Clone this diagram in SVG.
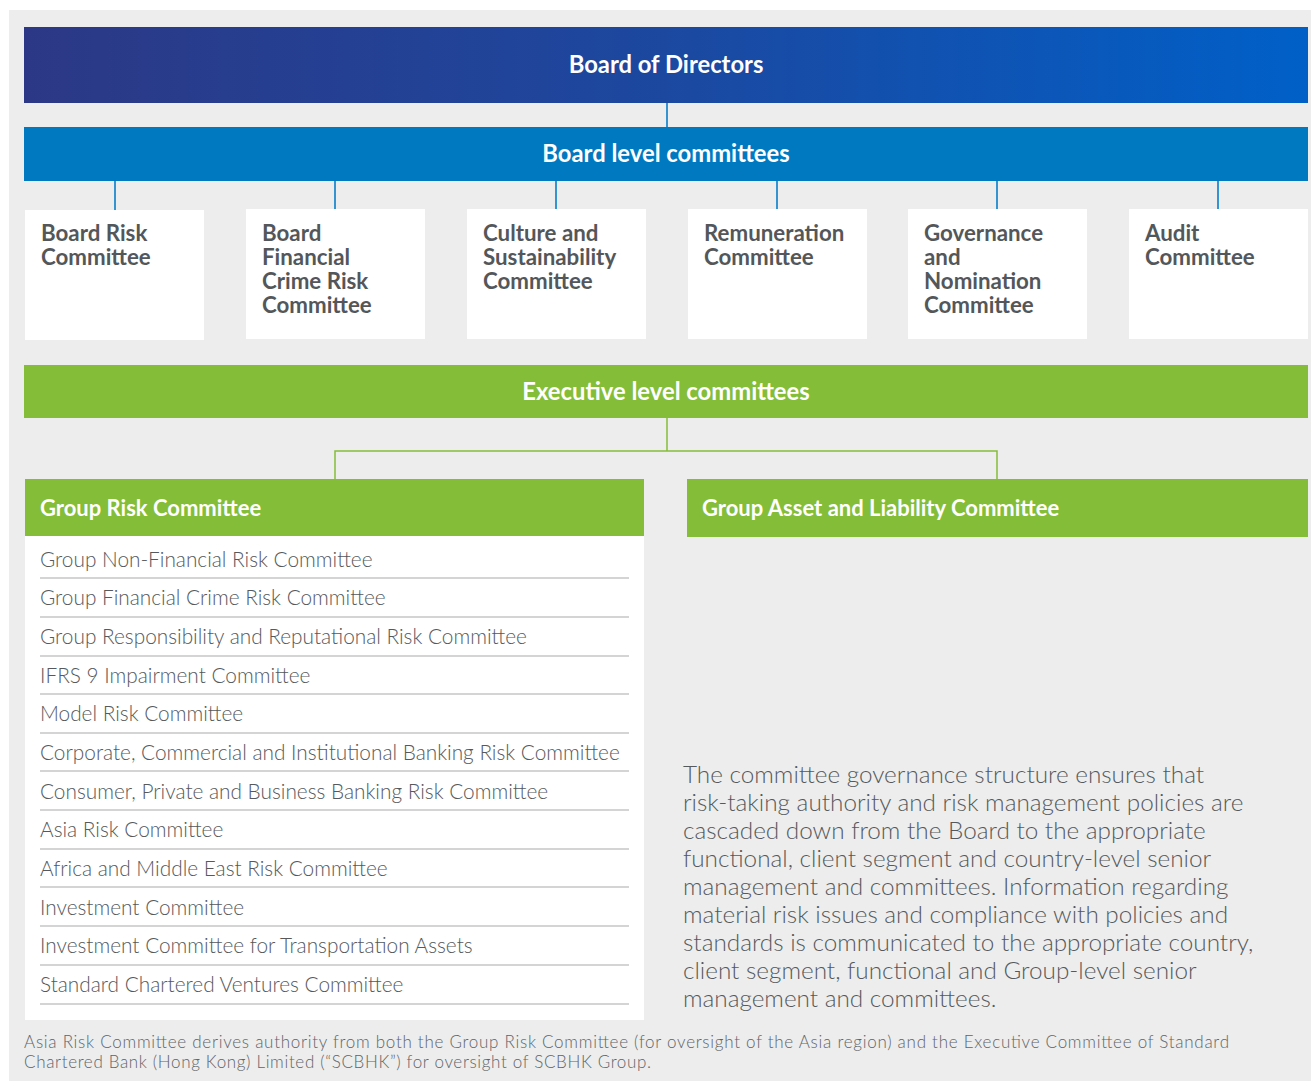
<svg xmlns="http://www.w3.org/2000/svg" width="1311" height="1081" viewBox="0 0 1311 1081">
<defs>
<linearGradient id="bod" x1="0" y1="0" x2="1" y2="0">
<stop offset="0" stop-color="#2c3885"/>
<stop offset="0.5" stop-color="#1c48a0"/>
<stop offset="1" stop-color="#0060c8"/>
</linearGradient>
<style>
.hd{font-family:Lato,"Noto Sans",sans-serif;font-weight:700;fill:#fff;font-size:22px}
.hc{font-size:23.8px}
.bx{fill:#fff}
.bt{font-family:Lato,"Noto Sans",sans-serif;font-weight:700;fill:#53575a;font-size:22.3px}
.li{font-family:Lato,"Noto Sans",sans-serif;font-weight:300;fill:#55595c;font-size:20.8px}
.sep{stroke:#c6c6c6;stroke-width:1.5}
.para{font-family:Lato,"Noto Sans",sans-serif;font-weight:300;fill:#55595c;font-size:24.3px}
.ft{font-family:Lato,"Noto Sans",sans-serif;font-weight:300;fill:#606468;font-size:17px}
.cb{stroke:#3593cf;stroke-width:2;fill:none}
.cg{stroke:#84bd37;stroke-width:1.5;fill:none}
</style>
</defs>
<rect x="0" y="0" width="1311" height="1081" fill="#fff"/>
<rect x="9" y="10" width="1302" height="1071" fill="#ededed"/>

<g id="connectors">
<line class="cb" x1="667" y1="103" x2="667" y2="127"/>
<line class="cb" x1="115" y1="181" x2="115" y2="210"/>
<line class="cb" x1="335" y1="181" x2="335" y2="210"/>
<line class="cb" x1="556" y1="181" x2="556" y2="210"/>
<line class="cb" x1="777" y1="181" x2="777" y2="210"/>
<line class="cb" x1="997" y1="181" x2="997" y2="210"/>
<line class="cb" x1="1218" y1="181" x2="1218" y2="210"/>
<path class="cg" d="M667 418 V451 M335 479 V451 H997 V479"/>
</g>

<g id="board-of-directors">
<rect x="24" y="27" width="1284" height="76" fill="url(#bod)"/>
<text class="hd hc" x="666" y="73" text-anchor="middle">Board of Directors</text>
</g>
<g id="board-level-committees">
<rect x="24" y="127" width="1284" height="54" fill="#0079c1"/>
<text class="hd hc" x="666" y="162" text-anchor="middle">Board level committees</text>
</g>

<g id="board-risk-committee">
<rect class="bx" x="25" y="210" width="179" height="130"/>
<text class="bt" x="41" y="241">Board Risk</text>
<text class="bt" x="41" y="265">Committee</text>
</g>
<g id="board-financial-crime-risk-committee">
<rect class="bx" x="246" y="209" width="179" height="130"/>
<text class="bt" x="262" y="241">Board</text>
<text class="bt" x="262" y="265">Financial</text>
<text class="bt" x="262" y="289">Crime Risk</text>
<text class="bt" x="262" y="313">Committee</text>
</g>
<g id="culture-sustainability-committee">
<rect class="bx" x="467" y="209" width="179" height="130"/>
<text class="bt" x="483" y="241">Culture and</text>
<text class="bt" x="483" y="265">Sustainability</text>
<text class="bt" x="483" y="289">Committee</text>
</g>
<g id="remuneration-committee">
<rect class="bx" x="688" y="209" width="179" height="130"/>
<text class="bt" x="704" y="241">Remuneration</text>
<text class="bt" x="704" y="265">Committee</text>
</g>
<g id="governance-nomination-committee">
<rect class="bx" x="908" y="209" width="179" height="130"/>
<text class="bt" x="924" y="241">Governance</text>
<text class="bt" x="924" y="265">and</text>
<text class="bt" x="924" y="289">Nomination</text>
<text class="bt" x="924" y="313">Committee</text>
</g>
<g id="audit-committee">
<rect class="bx" x="1129" y="209" width="179" height="130"/>
<text class="bt" x="1145" y="241">Audit</text>
<text class="bt" x="1145" y="265">Committee</text>
</g>

<g id="executive-level-committees">
<rect x="24" y="365" width="1284" height="53" fill="#84bd37"/>
<text class="hd hc" x="666" y="400" text-anchor="middle">Executive level committees</text>
</g>

<g id="group-risk-committee">
<rect x="25" y="536" width="619" height="484" fill="#fff"/>
<rect x="25" y="479" width="619" height="57" fill="#84bd37"/>
<text class="hd" x="40" y="516">Group Risk Committee</text>
<g id="grc-list">
<text class="li" x="40" y="567">Group Non-Financial Risk Committee</text>
<line class="sep" x1="40" y1="578" x2="629" y2="578"/>
<text class="li" x="40" y="605">Group Financial Crime Risk Committee</text>
<line class="sep" x1="40" y1="617" x2="629" y2="617"/>
<text class="li" x="40" y="644">Group Responsibility and Reputational Risk Committee</text>
<line class="sep" x1="40" y1="656" x2="629" y2="656"/>
<text class="li" x="40" y="683">IFRS 9 Impairment Committee</text>
<line class="sep" x1="40" y1="694" x2="629" y2="694"/>
<text class="li" x="40" y="721">Model Risk Committee</text>
<line class="sep" x1="40" y1="733" x2="629" y2="733"/>
<text class="li" x="40" y="760">Corporate, Commercial and Institutional Banking Risk Committee</text>
<line class="sep" x1="40" y1="771" x2="629" y2="771"/>
<text class="li" x="40" y="799">Consumer, Private and Business Banking Risk Committee</text>
<line class="sep" x1="40" y1="810" x2="629" y2="810"/>
<text class="li" x="40" y="837">Asia Risk Committee</text>
<line class="sep" x1="40" y1="849" x2="629" y2="849"/>
<text class="li" x="40" y="876">Africa and Middle East Risk Committee</text>
<line class="sep" x1="40" y1="887" x2="629" y2="887"/>
<text class="li" x="40" y="915">Investment Committee</text>
<line class="sep" x1="40" y1="926" x2="629" y2="926"/>
<text class="li" x="40" y="953">Investment Committee for Transportation Assets</text>
<line class="sep" x1="40" y1="965" x2="629" y2="965"/>
<text class="li" x="40" y="992">Standard Chartered Ventures Committee</text>
<line class="sep" x1="40" y1="1004" x2="629" y2="1004"/>
</g>
</g>

<g id="group-asset-liability-committee">
<rect x="687" y="479" width="621" height="58" fill="#84bd37"/>
<text class="hd" x="702" y="516">Group Asset and Liability Committee</text>
</g>

<g id="description">
<text class="para" x="683" y="783">The committee governance structure ensures that</text>
<text class="para" x="683" y="811">risk-taking authority and risk management policies are</text>
<text class="para" x="683" y="839">cascaded down from the Board to the appropriate</text>
<text class="para" x="683" y="867">functional, client segment and country-level senior</text>
<text class="para" x="683" y="895">management and committees. Information regarding</text>
<text class="para" x="683" y="923">material risk issues and compliance with policies and</text>
<text class="para" x="683" y="951">standards is communicated to the appropriate country,</text>
<text class="para" x="683" y="979">client segment, functional and Group-level senior</text>
<text class="para" x="683" y="1007">management and committees.</text>
</g>

<g id="footnote">
<text class="ft" x="24" y="1048" textLength="1205" lengthAdjust="spacing">Asia Risk Committee derives authority from both the Group Risk Committee (for oversight of the Asia region) and the Executive Committee of Standard</text>
<text class="ft" x="24" y="1068" textLength="627" lengthAdjust="spacing">Chartered Bank (Hong Kong) Limited (“SCBHK”) for oversight of SCBHK Group.</text>
</g>
</svg>
